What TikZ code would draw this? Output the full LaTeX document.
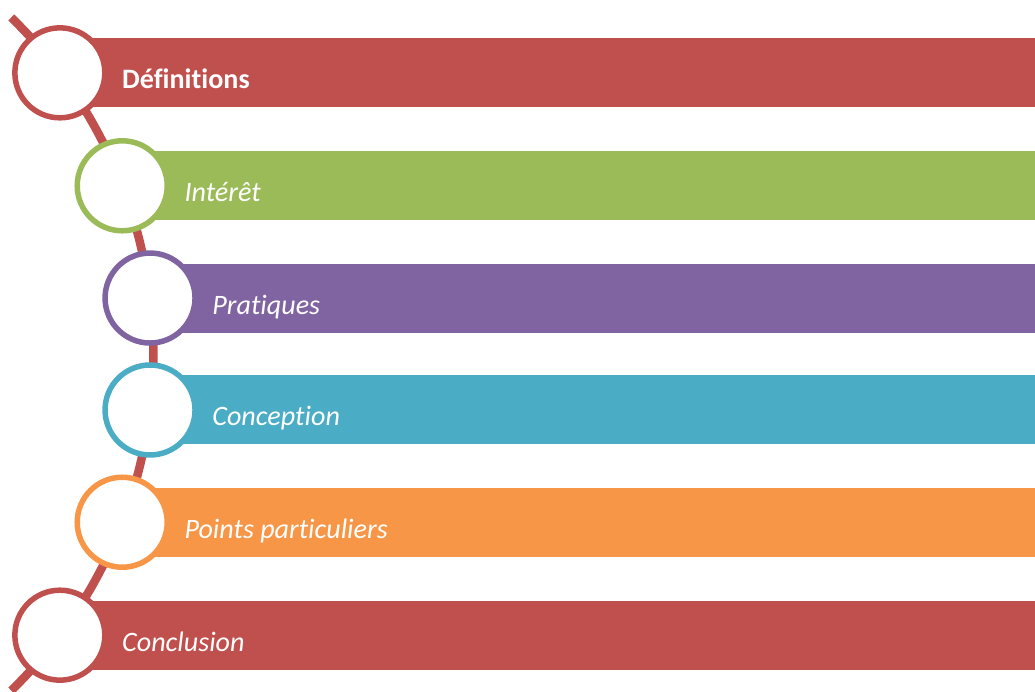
\documentclass[tikz,border=0pt]{standalone}
\usepackage{fontspec}
\setmainfont{Carlito}[Ligatures={NoCommon,NoRare}, Contextuals=NoAlternate]
\usetikzlibrary{positioning}

\definecolor{planred}{HTML}{C0504D}
\definecolor{plangreen}{HTML}{9BBB59}
\definecolor{planpurple}{HTML}{8064A2}
\definecolor{planaqua}{HTML}{4BACC6}
\definecolor{planorange}{HTML}{F79646}

\begin{document}
\begin{tikzpicture}[
        x=0.02cm, y=-0.02cm,
        ring/.style={circle, draw=#1, fill=white, line width=0.11cm, minimum size=1.8cm, inner sep=0pt},
        band/.style={fill=#1, anchor=west, minimum height=1.38cm, inner sep=0pt},
        caption/.style={anchor=base west, text=white, inner sep=0pt, font=\fontsize{16}{19}\selectfont\itshape},
        spine/.style={draw=planred, line width=0.17cm}
    ]
    \useasboundingbox (0,0) rectangle (1035,691);

    % Ring centres, all on one big arc
    \coordinate (hub) at (-316,354);
    \coordinate (p1) at ([shift={(36.8:9.39cm)}]hub);
    \coordinate (p2) at ([shift={(21.0:9.39cm)}]hub);
    \coordinate (p3) at ([shift={(6.85:9.39cm)}]hub);
    \coordinate (p4) at ([shift={(-6.85:9.39cm)}]hub);
    \coordinate (p5) at ([shift={(-21.0:9.39cm)}]hub);
    \coordinate (p6) at ([shift={(-36.8:9.39cm)}]hub);

    % Spine
    \draw[spine] ([shift={(45.8:9.39cm)}]hub) arc[start angle=45.8, end angle=-45.8, radius=9.39cm];

    % Bands (start behind the rings)
    \node[band=planred, minimum width=19.50cm] (defs) at (p1) {};
    \node[band=plangreen, minimum width=18.28cm] (inter) at (p2) {};
    \node[band=planpurple, minimum width=17.70cm] (prat) at (p3) {};
    \node[band=planaqua, minimum width=17.70cm] (conc) at (p4) {};
    \node[band=planorange, minimum width=18.28cm] (pts) at (p5) {};
    \node[band=planred, minimum width=19.50cm] (concl) at (p6) {};

    % Rings
    \node[ring=planred] (r1) at (p1) {};
    \node[ring=plangreen] (r2) at (p2) {};
    \node[ring=planpurple] (r3) at (p3) {};
    \node[ring=planaqua] (r4) at (p4) {};
    \node[ring=planorange] (r5) at (p5) {};
    \node[ring=planred] (r6) at (p6) {};

    % Captions
    \node[caption, font=\fontsize{16}{19}\selectfont\bfseries] (t1) at ([xshift=1.24cm, yshift=-0.32cm]r1.center) {Définitions};
    \node[caption] (t2) at ([xshift=1.24cm, yshift=-0.32cm]r2.center) {Intérêt};
    \node[caption] (t3) at ([xshift=1.24cm, yshift=-0.32cm]r3.center) {Pratiques};
    \node[caption] (t4) at ([xshift=1.24cm, yshift=-0.32cm]r4.center) {Conception};
    \node[caption] (t5) at ([xshift=1.24cm, yshift=-0.32cm]r5.center) {Points particuliers};
    \node[caption] (t6) at ([xshift=1.24cm, yshift=-0.32cm]r6.center) {Conclusion};
\end{tikzpicture}
\end{document}
